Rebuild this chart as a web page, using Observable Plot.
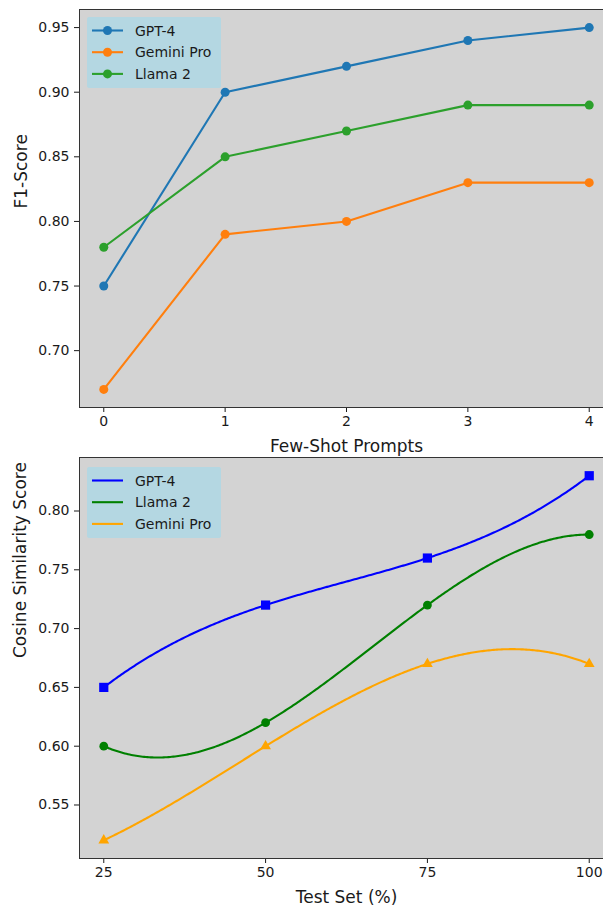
<!DOCTYPE html>
<html>
<head>
<meta charset="utf-8">
<script src="https://cdn.jsdelivr.net/npm/d3@7"></script>
<script src="https://cdn.jsdelivr.net/npm/@observablehq/plot@0.6"></script>
<style>
  html, body { margin: 0; padding: 0; background: white; }
  #wrap { width: 603px; overflow: hidden; position: relative; }
  .panel { position: relative; width: 603px; overflow: hidden; }
  #bottom { margin-top: -6px; }
  .legend { position: absolute; }
  svg { display: block; max-width: none !important; }
</style>
</head>
<body>
<div id="wrap">
  <div class="panel" id="top"></div>
  <div class="panel" id="bottom"></div>
</div>
<script>
// ---- data ----
const shots = [0, 1, 2, 3, 4];
const f1GPT4 = [0.75, 0.90, 0.92, 0.94, 0.95];
const f1Gemini = [0.67, 0.79, 0.80, 0.83, 0.83];
const f1Llama = [0.78, 0.85, 0.87, 0.89, 0.89];
const f1Ticks = [0.70, 0.75, 0.80, 0.85, 0.90, 0.95];

const testSet = [25, 50, 75, 100];
const cosGPT4 = [0.65, 0.72, 0.76, 0.83];
const cosLlama = [0.60, 0.62, 0.72, 0.78];
const cosGemini = [0.52, 0.60, 0.67, 0.67];
const cosTicks = [0.55, 0.60, 0.65, 0.70, 0.75, 0.80];

const topSeries = [
  {name: "GPT-4", values: f1GPT4, color: "#1f77b4"},
  {name: "Gemini Pro", values: f1Gemini, color: "#ff7f0e"},
  {name: "Llama 2", values: f1Llama, color: "#2ca02c"}
];
const bottomSeries = [
  {name: "GPT-4", values: cosGPT4, color: "#0000ff", symbol: "square", r: 5.2},
  {name: "Llama 2", values: cosLlama, color: "#008000", symbol: "circle", r: 4.4},
  {name: "Gemini Pro", values: cosGemini, color: "#ffa500", symbol: "triangle", r: 4.0}
];

// cubic (polynomial) interpolation curve through all points, like a k=3 spline on 4 points
function polyCurve(context) {
  let xs, ys;
  return {
    areaStart() {}, areaEnd() {},
    lineStart() { xs = []; ys = []; },
    point(x, y) { xs.push(+x); ys.push(+y); },
    lineEnd() {
      const n = xs.length;
      if (!n) return;
      const L = t => {
        let s = 0;
        for (let i = 0; i < n; i++) {
          let p = ys[i];
          for (let j = 0; j < n; j++) if (j !== i) p *= (t - xs[j]) / (xs[i] - xs[j]);
          s += p;
        }
        return s;
      };
      const x0 = xs[0], x1 = xs[n - 1], steps = 300;
      context.moveTo(x0, ys[0]);
      for (let k = 1; k <= steps; k++) {
        const t = x0 + (x1 - x0) * k / steps;
        context.lineTo(t, L(t));
      }
    }
  };
}

const FONT = "'DejaVu Sans', sans-serif";
const TEXT = "#1a1a1a";

// ---- top chart ----
const topMarks = [Plot.frame({fill: "#d3d3d3", stroke: "#333", strokeWidth: 1})];
for (const s of topSeries) {
  const rows = shots.map((x, i) => ({x, y: s.values[i]}));
  topMarks.push(Plot.line(rows, {x: "x", y: "y", stroke: s.color, strokeWidth: 2.1}));
  topMarks.push(Plot.dot(rows, {x: "x", y: "y", fill: s.color, r: 4.5}));
}
topMarks.push(Plot.text(["Few-Shot Prompts"], {text: d => d, frameAnchor: "bottom", dy: 39, lineAnchor: "middle", fontSize: 17, fill: TEXT}));
topMarks.push(Plot.text(["F1-Score"], {text: d => d, frameAnchor: "left", dx: -58, rotate: -90, lineAnchor: "middle", fontSize: 17, fill: TEXT}));

const topPlot = Plot.plot({
  width: 613, height: 460,
  marginLeft: 79, marginRight: 0, marginTop: 9, marginBottom: 53,
  style: {fontFamily: FONT, fontSize: "14px", color: TEXT, background: "white", maxWidth: "none"},
  x: {domain: [-0.2, 4.2], ticks: shots, tickFormat: d => String(d), tickSize: 5, tickPadding: 4, label: null},
  y: {domain: [0.656, 0.964], ticks: f1Ticks, tickFormat: d3.format(".2f"), tickSize: 5, tickPadding: 5, label: null},
  marks: topMarks
});
document.getElementById("top").appendChild(topPlot);

// ---- bottom chart ----
const botMarks = [Plot.frame({fill: "#d3d3d3", stroke: "#333", strokeWidth: 1})];
for (const s of bottomSeries) {
  const rows = testSet.map((x, i) => ({x, y: s.values[i]}));
  botMarks.push(Plot.line(rows, {x: "x", y: "y", stroke: s.color, strokeWidth: 2.1, curve: polyCurve}));
  botMarks.push(Plot.dot(rows, {x: "x", y: "y", fill: s.color, symbol: s.symbol, r: s.r}));
}
botMarks.push(Plot.text(["Test Set (%)"], {text: d => d, frameAnchor: "bottom", dy: 39, lineAnchor: "middle", fontSize: 17, fill: TEXT}));
botMarks.push(Plot.text(["Cosine Similarity Score"], {text: d => d, frameAnchor: "left", dx: -59, rotate: -90, lineAnchor: "middle", fontSize: 17, fill: TEXT}));

const botPlot = Plot.plot({
  width: 613, height: 453,
  marginLeft: 79, marginRight: 0, marginTop: 3, marginBottom: 49,
  style: {fontFamily: FONT, fontSize: "14px", color: TEXT, background: "transparent", maxWidth: "none"},
  x: {domain: [21.25, 103.75], ticks: testSet, tickFormat: d => String(d), tickSize: 5, tickPadding: 4, label: null},
  y: {domain: [0.5045, 0.8455], ticks: cosTicks, tickFormat: d3.format(".2f"), tickSize: 5, tickPadding: 5, label: null},
  marks: botMarks
});
document.getElementById("bottom").appendChild(botPlot);

// ---- legends (inside axes, upper left) ----
function legend(container, series, top, withMarkers) {
  const ns = "http://www.w3.org/2000/svg";
  const w = 134, h = 71;
  const svg = document.createElementNS(ns, "svg");
  svg.setAttribute("width", w); svg.setAttribute("height", h);
  svg.setAttribute("class", "legend");
  svg.style.left = "87px"; svg.style.top = top + "px";
  const bg = document.createElementNS(ns, "rect");
  bg.setAttribute("width", w); bg.setAttribute("height", h);
  bg.setAttribute("fill", "#b4d7e2"); bg.setAttribute("rx", 2);
  svg.appendChild(bg);
  series.forEach((s, i) => {
    const cy = 13.5 + i * 21.7;
    const ln = document.createElementNS(ns, "line");
    ln.setAttribute("x1", 5); ln.setAttribute("x2", 36);
    ln.setAttribute("y1", cy); ln.setAttribute("y2", cy);
    ln.setAttribute("stroke", s.color); ln.setAttribute("stroke-width", 2.1);
    svg.appendChild(ln);
    if (withMarkers) {
      const c = document.createElementNS(ns, "circle");
      c.setAttribute("cx", 20.5); c.setAttribute("cy", cy); c.setAttribute("r", 4.5);
      c.setAttribute("fill", s.color);
      svg.appendChild(c);
    }
    const t = document.createElementNS(ns, "text");
    t.setAttribute("x", 48); t.setAttribute("y", cy);
    t.setAttribute("dy", "0.36em");
    t.setAttribute("font-family", FONT); t.setAttribute("font-size", "14px");
    t.setAttribute("fill", TEXT);
    t.textContent = s.name;
    svg.appendChild(t);
  });
  container.appendChild(svg);
}
legend(document.getElementById("top"), topSeries, 17, true);
legend(document.getElementById("bottom"), bottomSeries, 12.5, false);
</script>
</body>
</html>
